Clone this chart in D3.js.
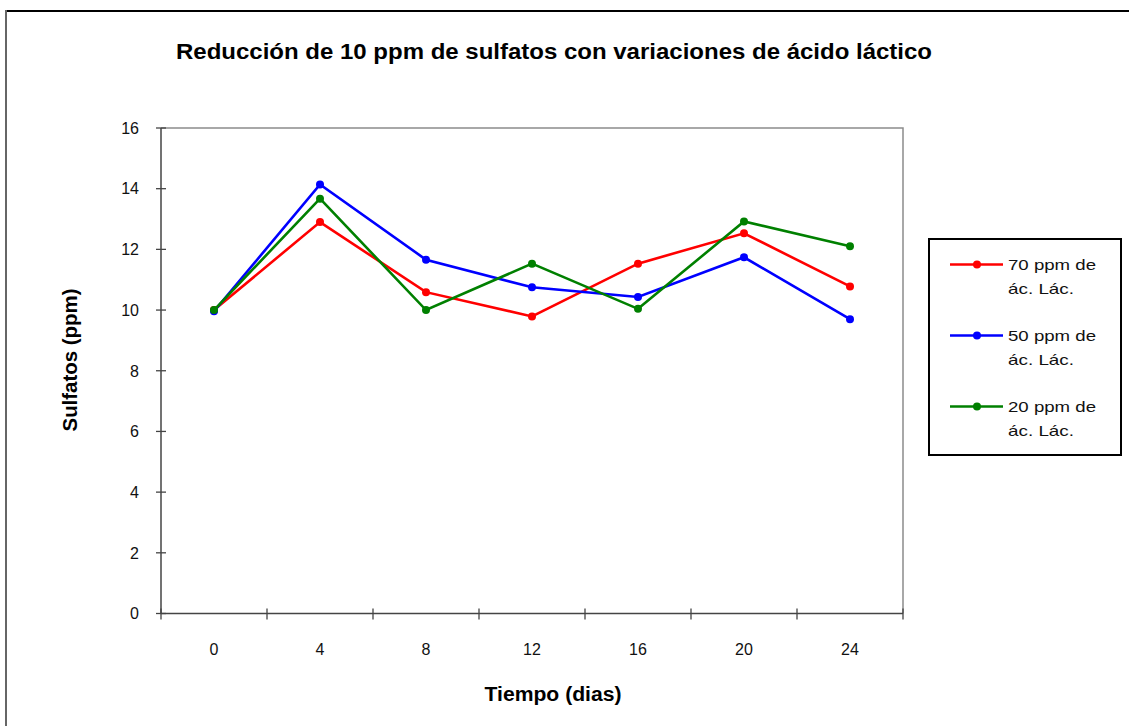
<!DOCTYPE html>
<html>
<head>
<meta charset="utf-8">
<script src="https://cdn.jsdelivr.net/npm/d3@7"></script>
<style>
  html, body { margin: 0; padding: 0; background: #fff; }
  svg { display: block; font-family: "Liberation Sans", Arial, sans-serif; }
</style>
</head>
<body>
<svg id="chart" width="1129" height="726"></svg>
<script>
// Sampling days (categorical x axis)
const days = ["0", "4", "8", "12", "16", "20", "24"];

// Sulfate concentration (ppm) for each lactic acid dose
const acido70 = [10.0, 12.9, 10.59, 9.79, 11.53, 12.53, 10.78];
const acido50 = [9.96, 14.14, 11.66, 10.75, 10.43, 11.74, 9.7];
const acido20 = [10.0, 13.67, 10.0, 11.53, 10.04, 12.92, 12.1];

const seriesNames = ["70 ppm de", "50 ppm de", "20 ppm de"];
const seriesColors = ["#ff0000", "#0000ff", "#008000"];
const yTicks = [0, 2, 4, 6, 8, 10, 12, 14, 16];

const series = [acido70, acido50, acido20].map((values, i) => ({
  name: seriesNames[i],
  color: seriesColors[i],
  values
}));

const svg = d3.select("#chart");

// Outer chart frame (top and left edges)
svg.append("line").attr("x1", 5).attr("x2", 1129).attr("y1", 11).attr("y2", 11)
  .attr("stroke", "#000").attr("stroke-width", 2);
svg.append("line").attr("x1", 6).attr("x2", 6).attr("y1", 10).attr("y2", 726)
  .attr("stroke", "#666").attr("stroke-width", 2);

const plot = { left: 161, right: 903, top: 128, bottom: 613.5 };

const x = d3.scaleBand().domain(days).range([plot.left, plot.right]).paddingInner(0).paddingOuter(0);
const y = d3.scaleLinear().domain([0, 16]).range([plot.bottom, plot.top]);

// Plot area border: top and right
svg.append("path")
  .attr("d", `M${plot.left},${plot.top}H${plot.right}V${plot.bottom}`)
  .attr("fill", "none").attr("stroke", "#8c8c8c").attr("stroke-width", 1.5);

// Y axis with crossing tick marks
const yAxis = svg.append("g").attr("transform", `translate(${plot.left},0)`);
yAxis.append("line").attr("x1", 0).attr("x2", 0).attr("y1", plot.top).attr("y2", plot.bottom)
  .attr("stroke", "#444").attr("stroke-width", 1.5);
yAxis.selectAll("line.tick").data(yTicks).enter().append("line")
  .attr("class", "tick")
  .attr("x1", -5).attr("x2", 5)
  .attr("y1", d => y(d)).attr("y2", d => y(d))
  .attr("stroke", "#444").attr("stroke-width", 1.3);
yAxis.selectAll("text").data(yTicks).enter().append("text")
  .attr("x", -22).attr("y", d => y(d)).attr("dy", "0.36em")
  .attr("text-anchor", "end")
  .attr("font-size", 16).attr("fill", "#111")
  .text(d => d);

// X axis with crossing tick marks at category boundaries
const xAxis = svg.append("g").attr("transform", `translate(0,${plot.bottom})`);
xAxis.append("line").attr("x1", plot.left).attr("x2", plot.right).attr("y1", 0).attr("y2", 0)
  .attr("stroke", "#444").attr("stroke-width", 1.5);
const boundaries = days.map(d => x(d)).concat([x(days[days.length - 1]) + x.bandwidth()]);
xAxis.selectAll("line.tick").data(boundaries).enter().append("line")
  .attr("class", "tick")
  .attr("x1", d => d).attr("x2", d => d)
  .attr("y1", -5).attr("y2", 6)
  .attr("stroke", "#444").attr("stroke-width", 1.3);
xAxis.selectAll("text").data(days).enter().append("text")
  .attr("x", d => x(d) + x.bandwidth() / 2).attr("y", 41.5)
  .attr("text-anchor", "middle")
  .attr("font-size", 16).attr("fill", "#111")
  .text(d => d);

// Title and axis titles
svg.append("text").attr("x", 554).attr("y", 59)
  .attr("text-anchor", "middle").attr("font-size", 22).attr("font-weight", "bold")
  .attr("textLength", 756).attr("lengthAdjust", "spacingAndGlyphs")
  .text("Reducción de 10 ppm de sulfatos con variaciones de ácido láctico");
svg.append("text").attr("x", 553).attr("y", 701)
  .attr("text-anchor", "middle").attr("font-size", 20).attr("font-weight", "bold")
  .attr("textLength", 137).attr("lengthAdjust", "spacingAndGlyphs")
  .text("Tiempo (dias)");
svg.append("text")
  .attr("transform", "translate(77,360) rotate(-90)")
  .attr("text-anchor", "middle").attr("font-size", 20).attr("font-weight", "bold")
  .attr("textLength", 143).attr("lengthAdjust", "spacingAndGlyphs")
  .text("Sulfatos (ppm)");

// Lines and markers
const line = d3.line()
  .x((d, i) => x(days[i]) + x.bandwidth() / 2)
  .y(d => y(d));

const groups = svg.selectAll("g.series").data(series).enter().append("g").attr("class", "series");
groups.append("path")
  .attr("d", d => line(d.values))
  .attr("fill", "none")
  .attr("stroke", d => d.color)
  .attr("stroke-width", 2.6);
groups.each(function (s) {
  d3.select(this).selectAll("circle").data(s.values).enter().append("circle")
    .attr("cx", (d, i) => x(days[i]) + x.bandwidth() / 2)
    .attr("cy", d => y(d))
    .attr("r", 4)
    .attr("fill", s.color);
});

// Legend
const legend = svg.append("g");
legend.append("rect").attr("x", 929).attr("y", 239).attr("width", 192).attr("height", 216)
  .attr("fill", "#fff").attr("stroke", "#000").attr("stroke-width", 2);
series.forEach((s, i) => {
  const ly = 264.5 + i * 71;
  legend.append("line").attr("x1", 950).attr("x2", 1003).attr("y1", ly).attr("y2", ly)
    .attr("stroke", s.color).attr("stroke-width", 2.6);
  legend.append("circle").attr("cx", 977).attr("cy", ly).attr("r", 4).attr("fill", s.color);
  legend.append("text").attr("x", 1008).attr("y", ly + 5.5)
    .attr("font-size", 15).attr("fill", "#111")
    .attr("textLength", 88).attr("lengthAdjust", "spacingAndGlyphs")
    .text(s.name);
  legend.append("text").attr("x", 1008).attr("y", ly + 29)
    .attr("font-size", 15).attr("fill", "#111")
    .attr("textLength", 66).attr("lengthAdjust", "spacingAndGlyphs")
    .text("ác. Lác.");
});
</script>
</body>
</html>
